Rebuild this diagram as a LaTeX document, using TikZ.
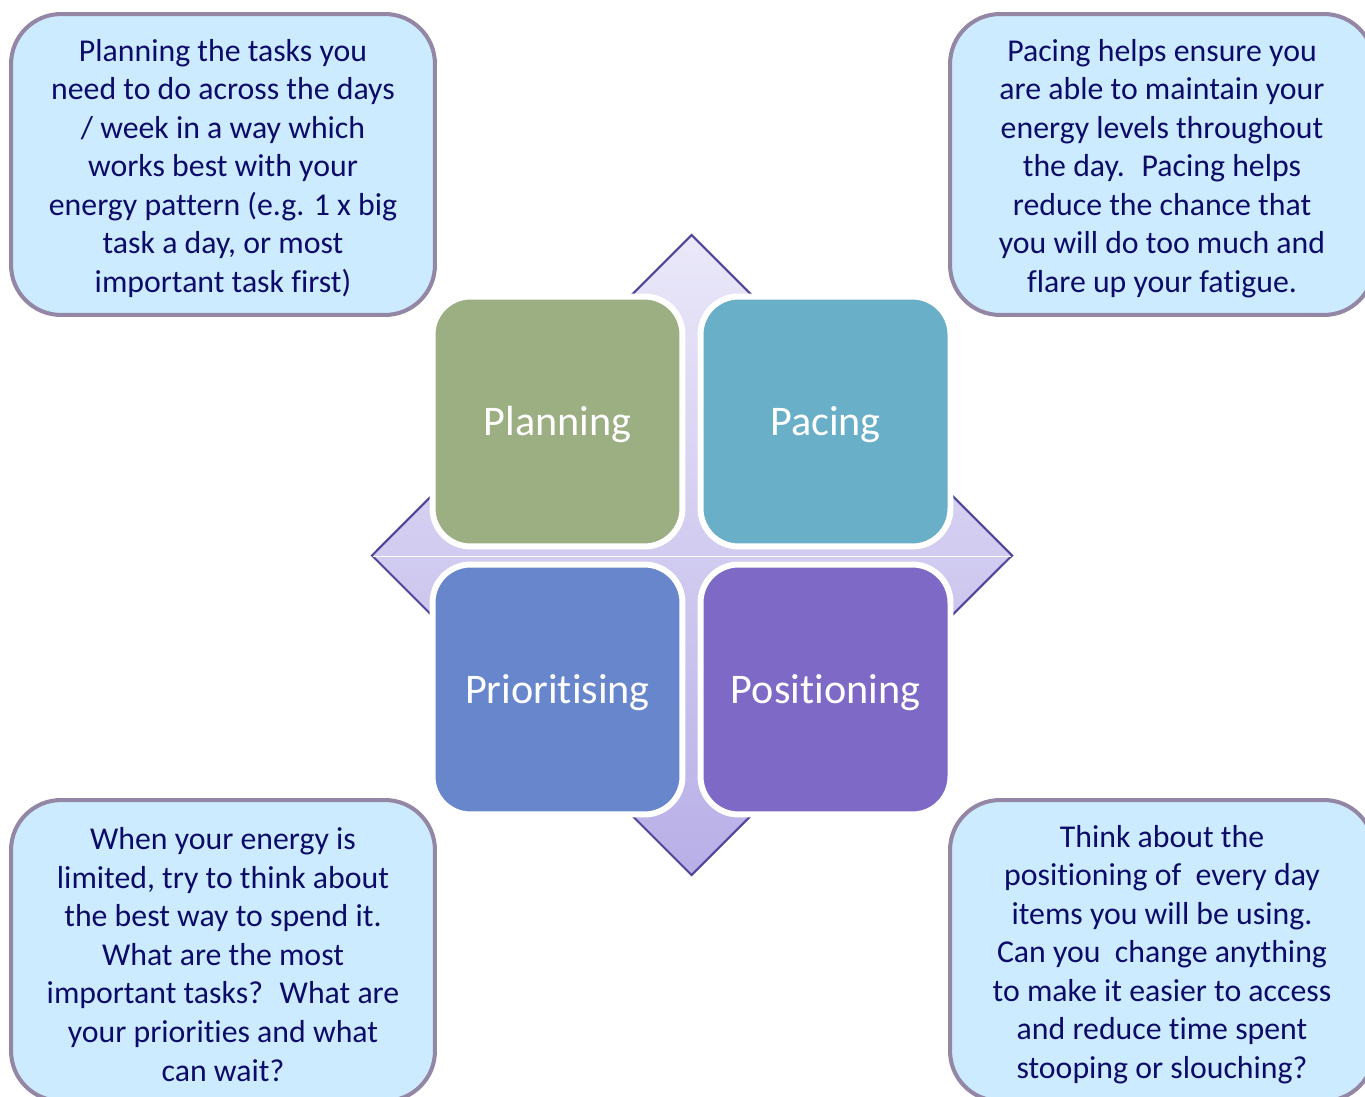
\documentclass[tikz,border=0pt]{standalone}
\usepackage{fontspec}
\setmainfont{Carlito}[Ligatures=NoCommon]
\usepackage{tikz}
\usetikzlibrary{positioning}

\definecolor{noteFill}{HTML}{CCEBFF}
\definecolor{noteLine}{HTML}{9487A5}
\definecolor{noteText}{HTML}{0C0C68}
\definecolor{diaLine}{HTML}{4F4499}
\definecolor{diaTop}{HTML}{EAE8F9}
\definecolor{diaBot}{HTML}{B8AFE7}
\definecolor{planC}{HTML}{9CAF83}
\definecolor{paceC}{HTML}{6AAFC8}
\definecolor{prioC}{HTML}{6786CC}
\definecolor{posC}{HTML}{7E6AC6}
\newcommand{\notestrut}{\rule{0pt}{17pt}}

\begin{document}
\begin{tikzpicture}[x=0.02cm,y=-0.02cm,
  note/.style={draw=noteLine, fill=noteFill, line width=2.3pt,
    rounded corners=1cm, minimum width=8.48cm, minimum height=6.02cm,
    align=center, text=noteText, font=\fontsize{18.1}{21.95}\selectfont},
  tile/.style={draw=white, line width=3.4pt, rounded corners=0.76cm,
    minimum size=5cm, text=white, font=\fontsize{24}{29}\selectfont,
    execute at begin node={\rule{0pt}{20pt}}}]
  \useasboundingbox (0,0) rectangle (1365,1097);
  \clip (0,0) rectangle (1365,1097);
  \def\cx{691.5}
  \def\cy{555.5}
  % diamond behind the tiles
  \draw[diaLine, line width=1.2pt, top color=diaTop, bottom color=diaBot]
    (\cx,235)--(1012,\cy)--(\cx,875)--(372,\cy)--cycle;
  \draw[white, line width=0.6pt] (373,556.5)--(1011,556.5);
  % the four tiles
  \node[tile, fill=planC] (plan) at (557.5,421.5) {Planning};
  \node[tile, fill=paceC] (pace) at (825.5,421.5) {Pacing};
  \node[tile, fill=prioC] (prio) at (557.5,689.5) {Prioritising};
  \node[tile, fill=posC] (pos) at (825.5,689.5) {Positioning};
  % the notes in the corners
  \node[note] (planNote) at (223,164.5)
    {\notestrut Planning the tasks you\\need to do across the days\\/ week in a way which\\works best with your\\energy pattern (e.g. 1 x big\\task a day, or most\\important task first)};
  \node[note] (paceNote) at (1162,164.5)
    {\notestrut Pacing helps ensure you\\are able to maintain your\\energy levels throughout\\the day.~ Pacing helps\\reduce the chance that\\you will do too much and\\flare up your fatigue.};
  \node[note] (prioNote) at (223,950.5)
    {\notestrut When your energy is\\limited, try to think about\\the best way to spend it.\\What are the most\\important tasks?~ What are\\your priorities and what\\can wait?};
  \node[note] (posNote) at (1162,950.5)
    {\notestrut Think about the\\positioning of~ every day\\items you will be using.\\Can you~ change anything\\to make it easier to access\\and reduce time spent\\stooping or slouching?};
\end{tikzpicture}
\end{document}
